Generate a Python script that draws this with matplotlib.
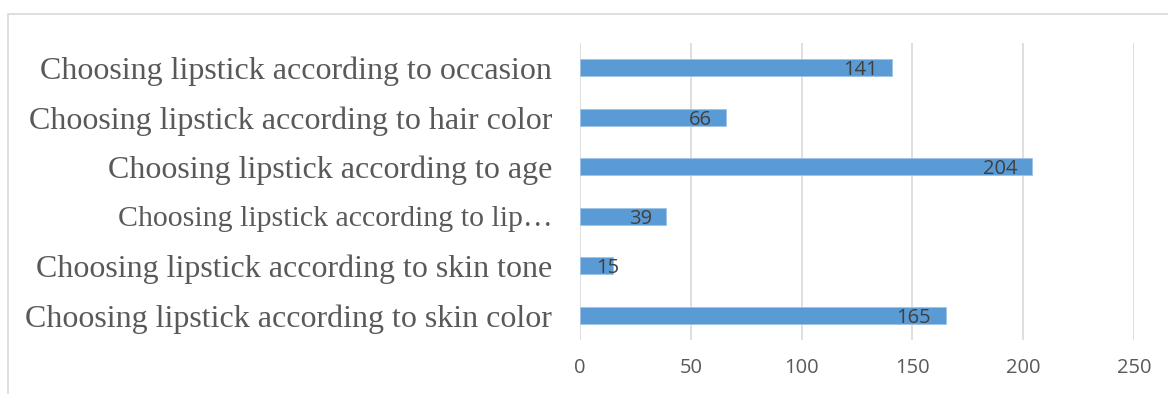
import matplotlib.pyplot as plt
import matplotlib.patches as patches

categories = ['Choosing lipstick according to skin color',
              'Choosing lipstick according to skin tone',
              'Choosing lipstick according to lip\u2026',
              'Choosing lipstick according to age',
              'Choosing lipstick according to hair color',
              'Choosing lipstick according to occasion']
values = [165, 15, 39, 204, 66, 141]
xticks = [0, 50, 100, 150, 200, 250]

fig = plt.figure(figsize=(11.68, 3.94), dpi=100)
ax = fig.add_axes([0.4966, 0.137, 0.4743, 0.7538])

# outer chart border (runs off the right and bottom edges)
fig.patches.append(patches.Rectangle((8 / 1168, -0.05), 1.2, 1 - 14 / 394 + 0.05,
                                     transform=fig.transFigure, fill=False,
                                     edgecolor='#d9d9d9', linewidth=1.2))

y = range(len(categories))
ax.barh(y, values, height=0.35, color='#5b9bd5', edgecolor='#9dc3e6', linewidth=0.6, zorder=3)

for yi, v in zip(y, values):
    if v < 20:
        # label too wide for the bar: Excel pushes it over the end
        ax.text(v / 2, yi, str(v), ha='left', va='center_baseline', fontsize=14.5,
                color='#404040', family='Open Sans', zorder=4)
    else:
        ax.text(v - 6.5, yi, str(v), ha='right', va='center_baseline', fontsize=14.5,
                color='#404040', family='Open Sans', zorder=4)

ax.set_xlim(0, 250)
ax.set_ylim(-0.5, len(categories) - 0.5)
ax.set_xticks(xticks)
ax.set_xticklabels([str(t) for t in xticks], fontsize=14.5, color='#595959', family='Open Sans')
ax.set_yticks(list(y))
ax.set_yticklabels(categories, fontsize=23, color='#595959', family='Liberation Serif')
# the truncated label is drawn a bit smaller
for lbl in ax.get_yticklabels():
    if lbl.get_text().endswith('\u2026'):
        lbl.set_fontsize(21.5)
ax.tick_params(axis='x', length=0, pad=13)
ax.tick_params(axis='y', length=0, pad=20)
ax.grid(axis='x', color='#d9d9d9', linewidth=1.2, zorder=0)
for s in ax.spines.values():
    s.set_visible(False)

fig.savefig('out.png', dpi=100)
